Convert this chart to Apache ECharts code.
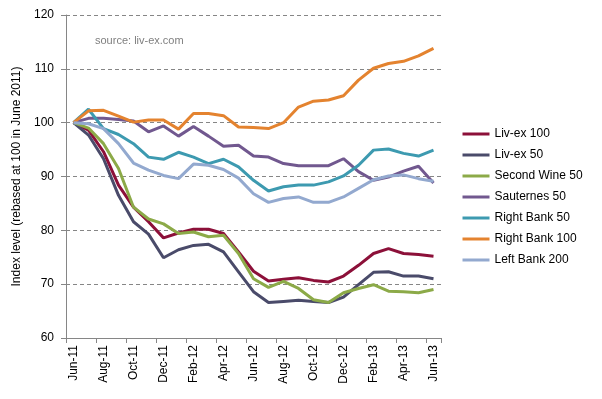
<!DOCTYPE html>
<html>
<head>
<meta charset="utf-8">
<script src="https://cdn.jsdelivr.net/npm/echarts@6/dist/echarts.min.js"></script>
<style>
  html, body { margin: 0; padding: 0; background: #fff; }
  #chart { width: 602px; height: 399px; }
</style>
</head>
<body>
<div id="chart"></div>
<script>
// months, Jun-11 .. Jun-13
var months = ['Jun-11', 'Jul-11', 'Aug-11', 'Sep-11', 'Oct-11', 'Nov-11', 'Dec-11',
  'Jan-12', 'Feb-12', 'Mar-12', 'Apr-12', 'May-12', 'Jun-12', 'Jul-12', 'Aug-12',
  'Sep-12', 'Oct-12', 'Nov-12', 'Dec-12', 'Jan-13', 'Feb-13', 'Mar-13', 'Apr-13',
  'May-13', 'Jun-13'];

// index values (rebased to 100 in June 2011)
var livex100 = [100, 98.6, 94.6, 88.4, 84.3, 81.6, 78.6, 79.5, 80.2, 80.2, 79.4, 76.0, 72.4,
  70.6, 70.9, 71.2, 70.7, 70.4, 71.5, 73.5, 75.7, 76.6, 75.7, 75.5, 75.2];
var livex50 = [100, 97.7, 93.3, 86.5, 81.6, 79.3, 74.9, 76.4, 77.2, 77.4, 76.0, 72.3, 68.6,
  66.6, 66.8, 67.0, 66.8, 66.6, 67.6, 69.9, 72.2, 72.3, 71.5, 71.5, 71.0];
var secondWine50 = [100, 99.0, 96.1, 91.5, 84.3, 82.1, 81.2, 79.4, 79.7, 78.8, 79.1, 75.7, 71.0,
  69.4, 70.5, 69.2, 67.1, 66.6, 68.4, 69.2, 69.9, 68.7, 68.6, 68.4, 69.0];
var sauternes50 = [100, 100.8, 100.8, 100.6, 100.3, 98.3, 99.4, 97.5, 99.3, 97.5, 95.6, 95.8, 93.8,
  93.6, 92.4, 92.0, 92.0, 92.0, 93.3, 90.9, 89.3, 89.9, 91.0, 91.9, 88.8];
var rightBank50 = [100, 102.5, 98.9, 97.8, 96.1, 93.6, 93.2, 94.5, 93.6, 92.4, 93.2, 91.8, 89.3,
  87.3, 88.1, 88.4, 88.4, 89.0, 90.1, 92.1, 94.9, 95.1, 94.3, 93.8, 94.9];
var rightBank100 = [100, 102.2, 102.3, 101.2, 100.1, 100.5, 100.5, 98.8, 101.7, 101.7, 101.3, 99.2, 99.1,
  98.9, 100, 102.9, 104.0, 104.2, 105.0, 107.9, 110.1, 111.0, 111.4, 112.4, 113.8];
var leftBank200 = [100, 99.8, 98.9, 96.1, 92.5, 91.2, 90.2, 89.6, 92.3, 92.1, 91.3, 89.7, 86.8,
  85.2, 85.9, 86.2, 85.2, 85.2, 86.2, 87.8, 89.4, 90.1, 90.3, 89.6, 89.1];

var seriesNames = ['Liv-ex 100', 'Liv-ex 50', 'Second Wine 50', 'Sauternes 50',
  'Right Bank 50', 'Right Bank 100', 'Left Bank 200'];
var seriesData = [livex100, livex50, secondWine50, sauternes50, rightBank50, rightBank100, leftBank200];
var colors = ['#8c1039', '#4a4b6a', '#8caa48', '#71588f', '#3d9ab0', '#e4832f', '#93a9cf'];

var yTicks = { min: 60, max: 120, interval: 10 };

var chart = echarts.init(document.getElementById('chart'));

var series = [];
for (var i = 0; i < seriesNames.length; i++) {
  series.push({
    name: seriesNames[i],
    type: 'line',
    symbol: 'none',
    smooth: false,
    lineStyle: { width: 3, color: colors[i] },
    itemStyle: { color: colors[i] },
    data: seriesData[i]
  });
}

var option = {
  animation: false,
  textStyle: { fontFamily: 'Liberation Sans, Arial, sans-serif' },
  grid: { left: 66, right: 161, top: 15, bottom: 61 },
  legend: {
    orient: 'vertical',
    left: 456,
    top: 123,
    itemWidth: 27,
    itemHeight: 14,
    itemGap: 9,
    itemStyle: { opacity: 0 },
    lineStyle: { width: 3 },
    textStyle: { fontSize: 12, color: '#000', fontFamily: 'Liberation Sans, Arial, sans-serif' },
    data: seriesNames
  },
  graphic: [{
    type: 'text',
    left: 95,
    top: 35,
    style: {
      text: 'source: liv-ex.com',
      fill: '#7f7f7f',
      fontSize: 11,
      fontFamily: 'Liberation Sans, Arial, sans-serif'
    }
  }],
  xAxis: {
    type: 'category',
    boundaryGap: true,
    data: months,
    axisLine: { lineStyle: { color: '#868686', width: 1 } },
    axisTick: { show: true, interval: 1, length: 5, lineStyle: { color: '#868686' } },
    axisLabel: { interval: 1, rotate: 90, margin: 7, fontSize: 12, color: '#000' },
    splitLine: { show: false }
  },
  yAxis: {
    type: 'value',
    min: yTicks.min,
    max: yTicks.max,
    interval: yTicks.interval,
    name: 'Index level (rebased at 100 in June 2011)',
    nameLocation: 'middle',
    nameGap: 43,
    nameTextStyle: { fontSize: 12, color: '#000' },
    axisLine: { show: true, lineStyle: { color: '#868686', width: 1 } },
    axisTick: { show: true, length: 5, lineStyle: { color: '#868686' } },
    axisLabel: { margin: 12, fontSize: 12, color: '#000' },
    splitLine: { show: true, lineStyle: { color: '#868686', type: [4, 3], width: 1 } }
  },
  series: series
};

chart.setOption(option);
</script>
</body>
</html>
